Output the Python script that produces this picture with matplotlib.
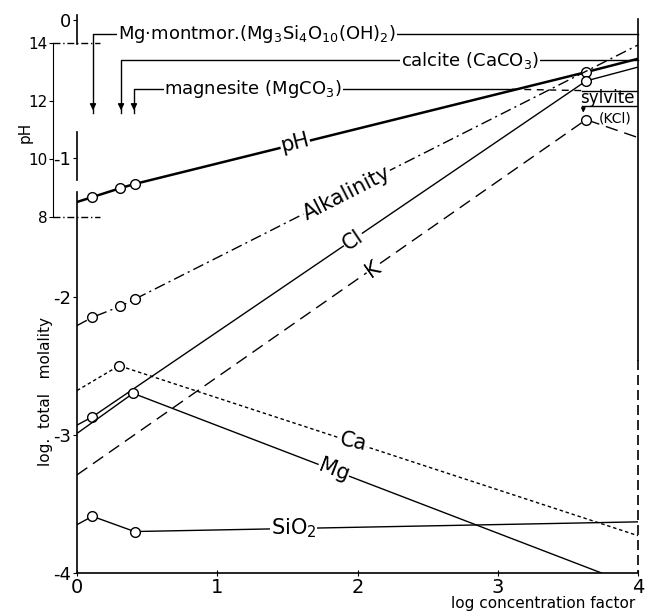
import numpy as np
import matplotlib.pyplot as plt

plt.rcParams['font.family'] = ['DejaVu Sans']
plt.rcParams['mathtext.default'] = 'regular'

# pH -> log molality position of the inset pH scale
def ph2log(p):
    return -1.425 + (np.asarray(p, dtype=float) - 8) * 0.20976

def log2ph(y):
    return 8 + (np.asarray(y, dtype=float) + 1.425) / 0.20976

# data (x = log concentration factor)
ph_x = [0, 0.11, 0.31, 0.41, 3.63, 4.0]
ph_y = [8.52, 8.69, 9.0, 9.14, 13.0, 13.46]

alk_x = [0, 0.11, 0.31, 0.41, 4.0]
alk_y = [-2.21, -2.15, -2.07, -2.02, -0.18]

cl_x = [0, 0.11, 3.63, 4.0]
cl_y = [-2.93, -2.87, -0.44, -0.34]

k_x = [0, 3.63, 4.0]
k_y = [-3.29, -0.72, -0.85]

ca_x = [0, 0.30, 4.0]
ca_y = [-2.68, -2.50, -3.73]

mg_x = [0, 0.40, 3.74]
mg_y = [-2.99, -2.70, -4.0]

si_x = [0, 0.11, 0.41, 4.0]
si_y = [-3.65, -3.59, -3.70, -3.63]

fig = plt.figure(figsize=(6.56, 6.16), dpi=100)
ax = fig.add_axes([0.1174, 0.0698, 0.8552, 0.920])
ax.set_xlim(0, 4)
ax.set_ylim(-4, 0.1)

circ = dict(marker='o', ms=7, mfc='white', mec='black', mew=1.0)
box = dict(fc='white', ec='none', pad=0.5)

# curves
ax.plot(ph_x, ph2log(ph_y), color='k', lw=1.8, markevery=[1, 2, 3, 4], **circ)
ax.plot(alk_x, alk_y, color='k', lw=1.0, ls=(0, (8, 3, 1.5, 3)), markevery=[1, 2, 3], **circ)
ax.plot(cl_x, cl_y, color='k', lw=1.0, markevery=[1, 2], **circ)
ax.plot(k_x, k_y, color='k', lw=1.0, ls=(0, (9, 5)), markevery=[1], **circ)
ax.plot(ca_x, ca_y, color='k', lw=1.0, ls=(0, (2.5, 2)), markevery=[1], **circ)
ax.plot(mg_x, mg_y, color='k', lw=1.0, markevery=[1], **circ)
ax.plot(si_x, si_y, color='k', lw=1.0, markevery=[1, 2], **circ)

# curve labels
lab = dict(ha='center', va='center', fontsize=15, bbox=box, zorder=4)
ax.text(1.554, -0.89, 'pH', rotation=14, **lab)
ax.text(1.925, -1.25, 'Alkalinity', rotation=27, **lab)
ax.text(1.968, -1.59, 'Cl', rotation=34, **lab)
ax.text(2.11, -1.80, 'K', rotation=35, **lab)
ax.text(1.97, -3.05, 'Ca', rotation=-12, **lab)
ax.text(1.83, -3.26, 'Mg', rotation=-21, **lab)
ax.text(1.545, -3.675, 'SiO$_2$', rotation=0, **lab)

# mineral saturation brackets
ax.plot([0.114, 0.114, 4.0], [-0.673, -0.10, -0.10], color='k', lw=1.0, clip_on=False)
ax.plot([0.314, 0.314, 4.0], [-0.673, -0.29, -0.29], color='k', lw=1.0, clip_on=False)
ax.plot([0.406, 0.406, 3.1], [-0.673, -0.50, -0.50], color='k', lw=1.0)
ax.plot([3.1, 3.6], [-0.50, -0.51], color='k', lw=1.0, ls=(0, (5, 4)))
ax.plot([3.6, 4.0], [-0.51, -0.51], color='k', lw=1.0)
ax.plot([3.6, 4.0], [-0.62, -0.62], color='k', lw=1.0)
for xa in [0.114, 0.314, 0.406]:
    ax.annotate('', xy=(xa, -0.673), xytext=(xa, -0.60),
                arrowprops=dict(arrowstyle='-|>', color='k', lw=1.0, mutation_scale=9))
ax.annotate('', xy=(3.61, -0.69), xytext=(3.61, -0.62),
            arrowprops=dict(arrowstyle='-|>', color='k', lw=1.0, mutation_scale=6))

mtxt = dict(va='center', fontsize=13, bbox=box, zorder=4)
ax.text(0.292, -0.10, r'Mg$\cdot$montmor.(Mg$_3$Si$_4$O$_{10}$(OH)$_2$)', ha='left', **mtxt)
ax.text(2.80, -0.29, 'calcite (CaCO$_3$)', ha='center', **mtxt)
ax.text(1.255, -0.50, 'magnesite (MgCO$_3$)', ha='center', **mtxt)
ax.text(3.78, -0.566, 'sylvite', ha='center', va='center', fontsize=12)
ax.text(3.84, -0.71, '(KCl)', ha='center', va='center', fontsize=10)

# frame: broken left axis, right boundary line
for spn in ['left', 'right', 'top']:
    ax.spines[spn].set_visible(False)
ax.spines['bottom'].set_linewidth(1.2)
for y0, y1 in [(-4, -1.245), (-0.81, -1.16), (0.04, -0.17)]:
    ax.plot([0, 0], [y0, y1], color='k', lw=1.2, clip_on=False)
ax.plot([4, 4], [0.01, -2.46], color='k', lw=1.2, clip_on=False)
ax.plot([4, 4], [-2.46, -4], color='k', lw=1.2, ls=(0, (6, 3)), clip_on=False)

ax.set_xticks([0, 1, 2, 3, 4])
ax.set_yticks([-4, -3, -2, -1, 0])
ax.set_yticklabels(['-4', '-3', '-2', '-1', '0'])
ax.tick_params(axis='x', direction='inout', length=5, labelsize=14, pad=1)
ax.tick_params(axis='y', direction='out', length=3, labelsize=13, pad=1)

# inset pH scale
sec = ax.secondary_yaxis(-0.0428, functions=(log2ph, ph2log))
sec.set_yticks([8, 10, 12, 14])
sec.spines['left'].set_bounds(8, 14)
sec.tick_params(direction='out', length=3, labelsize=11, pad=1)
for p in [8, 14]:
    ax.plot([-0.171, 0.164], [ph2log(p)] * 2, color='k', lw=1.0,
            ls=(0, (5, 2, 1, 2)), clip_on=False)

ax.text(-0.371, -0.81, 'pH', rotation=90, ha='center', va='center', fontsize=11)
ax.text(-0.228, -2.69, 'log.  total   molality', rotation=90, ha='center', va='center', fontsize=11)
ax.text(3.32, -4.22, 'log concentration factor', ha='center', va='center', fontsize=11)

fig.savefig('out.png', dpi=100)
